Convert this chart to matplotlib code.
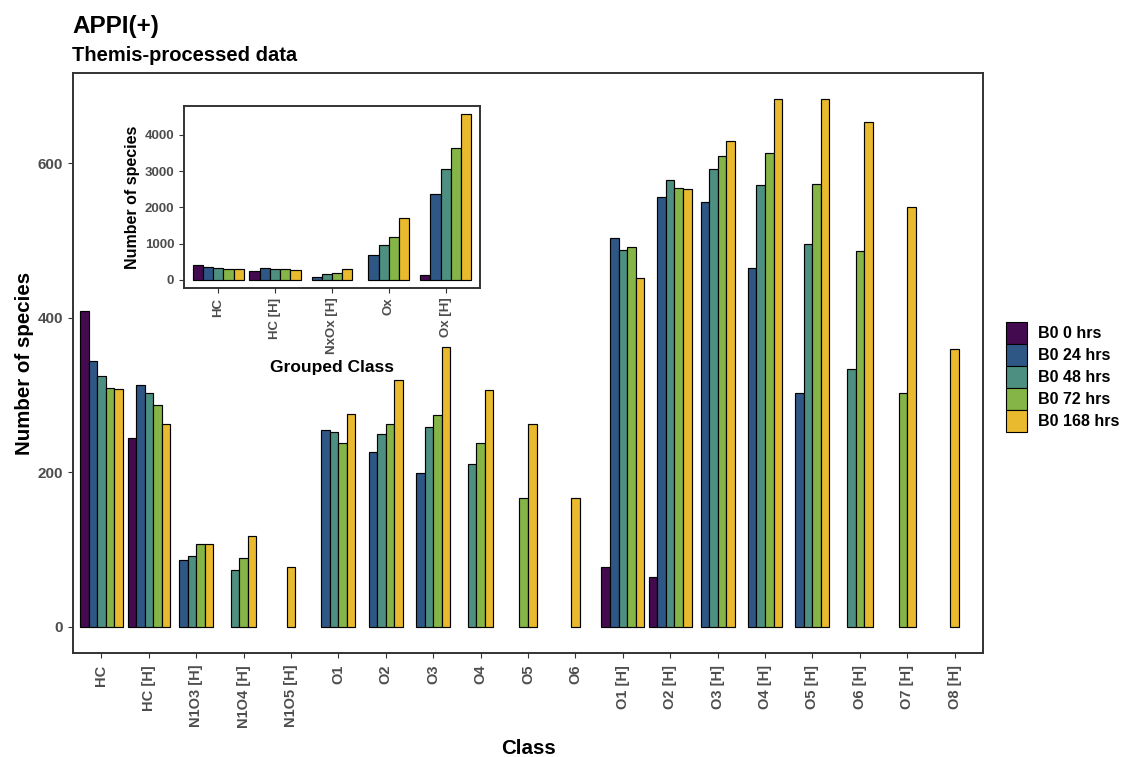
import numpy as np
import matplotlib
matplotlib.use('Agg')
import matplotlib.pyplot as plt
from matplotlib.patches import Patch

plt.rcParams['font.family'] = ['Liberation Sans', 'DejaVu Sans']
plt.rcParams['font.weight'] = 'bold'

nan = np.nan

# Classes on the main x axis
classes = ['HC', 'HC [H]', 'N1O3 [H]', 'N1O4 [H]', 'N1O5 [H]', 'O1', 'O2', 'O3', 'O4', 'O5', 'O6',
           'O1 [H]', 'O2 [H]', 'O3 [H]', 'O4 [H]', 'O5 [H]', 'O6 [H]', 'O7 [H]', 'O8 [H]']

# Number of species per class, one list per time point (nan = no bar)
b0_0 = [409, 244, nan, nan, nan, nan, nan, nan, nan, nan, nan,
        77, 64, nan, nan, nan, nan, nan, nan]
b0_24 = [344, 313, 86, nan, nan, 255, 226, 199, nan, nan, nan,
         504, 556, 550, 465, 302, nan, nan, nan]
b0_48 = [325, 302, 92, 74, nan, 252, 250, 259, 211, nan, nan,
         488, 579, 593, 572, 496, 334, nan, nan]
b0_72 = [309, 287, 107, 89, nan, 238, 262, 274, 238, 167, nan,
         492, 568, 609, 613, 573, 487, 302, nan]
b0_168 = [308, 263, 107, 117, 77, 275, 320, 362, 307, 263, 167,
          452, 567, 629, 683, 683, 654, 543, 359]

series_labels = ['B0 0 hrs', 'B0 24 hrs', 'B0 48 hrs', 'B0 72 hrs', 'B0 168 hrs']
colors = ['#440a4f', '#2e5785', '#4d8f80', '#85b447', '#e9b92e']

# Grouping of the classes for the inset
groups = ['HC', 'HC [H]', 'NxOx [H]', 'Ox', 'Ox [H]']
group_of_class = ['HC', 'HC [H]', 'NxOx [H]', 'NxOx [H]', 'NxOx [H]', 'Ox', 'Ox', 'Ox', 'Ox', 'Ox', 'Ox',
                  'Ox [H]', 'Ox [H]', 'Ox [H]', 'Ox [H]', 'Ox [H]', 'Ox [H]', 'Ox [H]', 'Ox [H]']

series = np.array([b0_0, b0_24, b0_48, b0_72, b0_168], dtype=float)

# Sum per group (nan if no class of the group has a value)
grouped = np.full((len(series), len(groups)), nan)
for g, name in enumerate(groups):
    idx = [i for i, c in enumerate(group_of_class) if c == name]
    vals = series[:, idx]
    has = ~np.all(np.isnan(vals), axis=1)
    grouped[has, g] = np.nansum(vals[has], axis=1)

TEXT_GRAY = '#4d4d4d'
FRAME = '#333333'


def dodge_bars(ax, data, width, lw):
    # bars of one category are centered on the tick (ggplot preserve='single')
    for i in range(data.shape[1]):
        present = [k for k in range(data.shape[0]) if not np.isnan(data[k, i])]
        n = len(present)
        for j, k in enumerate(present):
            x = i + (j - (n - 1) / 2) * width
            ax.bar(x, data[k, i], width=width, color=colors[k], edgecolor='black', linewidth=lw)


def style_axes(ax, tick_size):
    for sp in ax.spines.values():
        sp.set_color(FRAME)
        sp.set_linewidth(1.4)
    ax.tick_params(axis='both', colors=FRAME, labelcolor=TEXT_GRAY, labelsize=tick_size,
                   length=3.5, width=0.8)
    for lab in ax.get_xticklabels() + ax.get_yticklabels():
        lab.set_fontweight('bold')


fig = plt.figure(figsize=(11.22, 7.57), dpi=100)

# Main panel
ax = fig.add_axes([73 / 1122, 1 - 653 / 757, 910 / 1122, 580 / 757])
dodge_bars(ax, series, 0.18, 0.85)
ymax = np.nanmax(series)
ax.set_xlim(-0.6, len(classes) - 0.4)
ax.set_ylim(-0.05 * ymax, 1.05 * ymax)
ax.set_yticks([0, 200, 400, 600])
ax.set_xticks(range(len(classes)))
ax.set_xticklabels(classes, rotation=90)
style_axes(ax, 11)
ax.tick_params(axis='x', labelsize=10.5, pad=5)
ax.set_xlabel('Class', fontsize=14.8, fontweight='bold', labelpad=8)
ax.set_ylabel('Number of species', fontsize=14.8, fontweight='bold', labelpad=3)

# Inset with grouped classes
axi = fig.add_axes([184 / 1122, 1 - 288 / 757, 296 / 1122, 182 / 757])
dodge_bars(axi, grouped, 0.18, 0.85)
gmax = np.nanmax(grouped)
axi.set_xlim(-0.6, len(groups) - 0.4)
axi.set_ylim(-0.05 * gmax, 1.05 * gmax)
axi.set_yticks([0, 1000, 2000, 3000, 4000])
axi.set_xticks(range(len(groups)))
axi.set_xticklabels(groups, rotation=90)
style_axes(axi, 9.5)
axi.set_xlabel('Grouped Class', fontsize=12.5, fontweight='bold', labelpad=4)
axi.set_ylabel('Number of species', fontsize=11.5, fontweight='bold', labelpad=3)

# Titles
fig.text(72 / 1122, 1 - 33 / 757, 'APPI(+)', fontsize=17.5, fontweight='bold', va='baseline')
fig.text(72 / 1122, 1 - 61 / 757, 'Themis-processed data', fontsize=14.5, fontweight='bold',
         va='baseline')

# Legend
handles = [Patch(facecolor=c, edgecolor='black', linewidth=0.8, label=l)
           for c, l in zip(colors, series_labels)]
fig.legend(handles=handles, loc='upper left', bbox_to_anchor=(1006 / 1122, 1 - 322 / 757),
           frameon=False, handlelength=1.31, handleheight=1.74,
           labelspacing=0.0, handletextpad=0.69, borderpad=0, borderaxespad=0,
           prop={'weight': 'bold', 'size': 11.5})

fig.savefig('out.png', dpi=100)
